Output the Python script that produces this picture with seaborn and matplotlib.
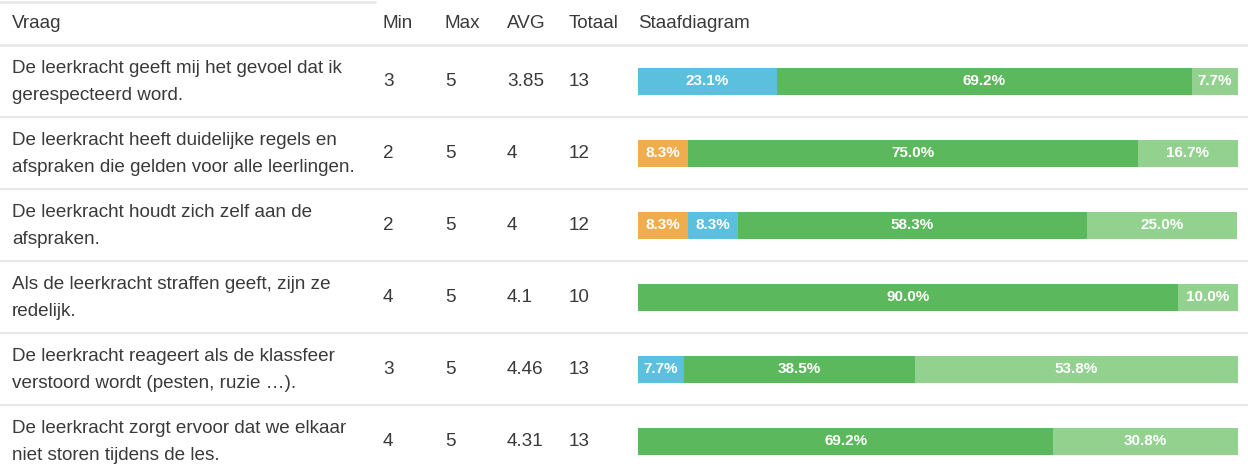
import numpy as np
import pandas as pd
import matplotlib
matplotlib.use("Agg")
import matplotlib.pyplot as plt
import seaborn as sns

# table data
questions = [
    "De leerkracht geeft mij het gevoel dat ik\ngerespecteerd word.",
    "De leerkracht heeft duidelijke regels en\nafspraken die gelden voor alle leerlingen.",
    "De leerkracht houdt zich zelf aan de\nafspraken.",
    "Als de leerkracht straffen geeft, zijn ze\nredelijk.",
    "De leerkracht reageert als de klassfeer\nverstoord wordt (pesten, ruzie \u2026).",
    "De leerkracht zorgt ervoor dat we elkaar\nniet storen tijdens de les.",
]
min_vals = ["3", "2", "2", "4", "3", "4"]
max_vals = ["5", "5", "5", "5", "5", "5"]
avg_vals = ["3.85", "4", "4", "4.1", "4.46", "4.31"]
totals = ["13", "12", "12", "10", "13", "13"]
headers = ["Vraag", "Min", "Max", "AVG", "Totaal", "Staafdiagram"]

# percentages per answer level (score 2, 3, 4, 5)
pct_2 = [0.0, 8.3, 8.3, 0.0, 0.0, 0.0]
pct_3 = [23.1, 0.0, 8.3, 0.0, 7.7, 0.0]
pct_4 = [69.2, 75.0, 58.3, 90.0, 38.5, 69.2]
pct_5 = [7.7, 16.7, 25.0, 10.0, 53.8, 30.8]

levels = [pct_2, pct_3, pct_4, pct_5]
colors = ["#f0ad4e", "#5bc0de", "#5cb85c", "#93d18f"]

sns.set_theme(style="white")
plt.rcParams["font.family"] = ["Liberation Sans", "DejaVu Sans"]

W, H = 1248, 472
fig = plt.figure(figsize=(W / 100, H / 100), dpi=100)

# background axes in pixel coordinates for the table text and lines
bg = fig.add_axes([0, 0, 1, 1])
bg.set_xlim(0, W)
bg.set_ylim(H, 0)
bg.axis("off")

txt = "#3a3a3a"
line_c = "#e8e8e8"
row_h = 72
top = 45
col_x = [12, 383, 445, 507, 569, 638]
fs = 13.6

bg.plot([0, 375], [1.5, 1.5], color=line_c, lw=2)
for i, h in enumerate(headers):
    bg.text(col_x[i], 23, h, fontsize=fs, color=txt, va="center", ha="left")

for r in range(len(questions) + 1):
    y = top + r * row_h
    bg.plot([0, W], [y, y], color=line_c, lw=2 if r == 0 else 1.6)

for r in range(len(questions)):
    yc = top + r * row_h + row_h / 2
    bg.text(col_x[0], yc + 1, questions[r], fontsize=fs, color=txt, va="center",
            ha="left", linespacing=1.75)
    for c, vals in zip(col_x[1:5], [min_vals, max_vals, avg_vals, totals]):
        bg.text(c, yc + 1, vals[r], fontsize=fs, color=txt, va="center", ha="left")

# bar axes
x0, x1 = 638, 1238
ax = fig.add_axes([x0 / W, (H - (top + 6 * row_h)) / H, (x1 - x0) / W, 6 * row_h / H])
ax.patch.set_alpha(0)

df = pd.DataFrame({"q": list(range(len(questions)))})
cum = np.cumsum(np.array(levels), axis=0)
for k in range(len(levels) - 1, -1, -1):
    df["v"] = cum[k]
    sns.barplot(data=df, x="v", y="q", orient="h", color=colors[k], saturation=1,
                width=0.375, ax=ax, linewidth=0)

for k in range(len(levels)):
    left = cum[k] - np.array(levels[k])
    for r in range(len(questions)):
        w = levels[k][r]
        if w > 0:
            ax.text(left[r] + w / 2, r, f"{w:.1f}%", color="white", fontsize=11,
                    fontweight="bold", ha="center", va="center")

ax.set_xlim(0, 100)
ax.set_ylim(5.5, -0.5)
ax.axis("off")

fig.savefig("out.png", dpi=100)
